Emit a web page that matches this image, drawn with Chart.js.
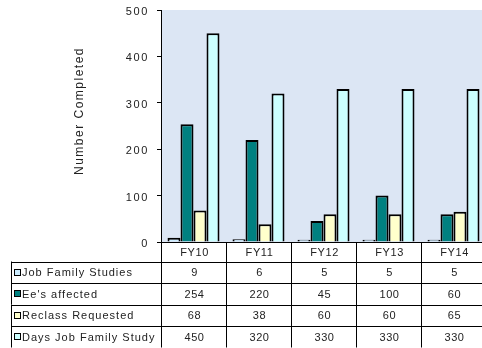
<!DOCTYPE html>
<html>
<head>
<meta charset="utf-8">
<script src="https://cdn.jsdelivr.net/npm/chart.js@4/dist/chart.umd.min.js"></script>
<style>
  html, body { margin: 0; padding: 0; background: #fff; overflow: hidden; }
  #wrap { width: 488px; height: 348px; }
</style>
</head>
<body>
<div id="wrap"><canvas id="c" width="488" height="348"></canvas></div>
<script>
// Fiscal years shown along the bottom
const categories = ['FY10', 'FY11', 'FY12', 'FY13', 'FY14'];

// Series values
const jobFamilyStudies = [9, 6, 5, 5, 5];
const eesAffected = [254, 220, 45, 100, 60];
const reclassRequested = [68, 38, 60, 60, 65];
const daysJobFamilyStudy = [450, 320, 330, 330, 330];

// Series names
const seriesNames = ['Job Family Studies', "Ee's affected", 'Reclass Requested', 'Days Job Family Study'];

// Value axis ticks
const yTicks = [0, 100, 200, 300, 400, 500];

const seriesValues = [jobFamilyStudies, eesAffected, reclassRequested, daysJobFamilyStudy];
const seriesColors = ['#ccecff', '#008080', '#ffffcc', '#ccffff'];

const FONT = '"Liberation Sans", Arial, sans-serif';
const TEXT = '#222';

// Light blue plot background
const plotBackground = {
  id: 'plotBackground',
  beforeDraw(chart) {
    const { ctx, chartArea: a } = chart;
    ctx.save();
    ctx.fillStyle = '#dce6f4';
    ctx.fillRect(a.left, a.top, a.right - a.left, a.bottom - a.top);
    ctx.restore();
  }
};

// Value-axis labels, data table under the plot and the rotated axis title
const dataTable = {
  id: 'dataTable',
  afterDraw(chart) {
    const { ctx, chartArea: a } = chart;
    const xs = chart.scales.x;
    const ys = chart.scales.y;
    const n = categories.length;
    const colW = (a.right - a.left) / n;
    const headerH = 19.5;
    const rowH = 21.5;
    const tableLeft = 11;
    const top = a.bottom;
    const px = v => Math.round(v) + 0.5;

    ctx.save();
    ctx.fillStyle = TEXT;
    ctx.textBaseline = 'middle';

    // value-axis tick labels
    ctx.font = '11px ' + FONT;
    ctx.letterSpacing = '1.6px';
    ctx.textAlign = 'right';
    yTicks.forEach(v => {
      ctx.fillText(String(v), a.left - 12, ys.getPixelForValue(v) + 2);
    });

    ctx.strokeStyle = '#000';
    ctx.lineWidth = 1;

    // header row (category names)
    const hBottom = top + headerH;
    ctx.beginPath();
    ctx.moveTo(a.left, px(hBottom));
    ctx.lineTo(a.right + 5, px(hBottom));
    for (let i = 0; i <= n; i++) {
      const x = px(a.left + i * colW);
      ctx.moveTo(x, top);
      ctx.lineTo(x, top + headerH + rowH * seriesNames.length);
    }
    ctx.stroke();
    ctx.textAlign = 'center';
    ctx.letterSpacing = '0.6px';
    categories.forEach((c, i) => {
      ctx.fillText(c, xs.getPixelForValue(i) + 1, top + headerH / 2 + 1);
    });

    // series rows
    seriesNames.forEach((name, r) => {
      const y0 = hBottom + r * rowH;
      const y1 = y0 + rowH;
      ctx.beginPath();
      ctx.moveTo(tableLeft, px(y1));
      ctx.lineTo(a.right + 5, px(y1));
      if (r === 0) {
        ctx.moveTo(tableLeft, px(y0));
        ctx.lineTo(a.left, px(y0));
      }
      ctx.moveTo(px(tableLeft), y0);
      ctx.lineTo(px(tableLeft), y1);
      ctx.stroke();

      // legend key
      const ky = Math.round(y0 + rowH / 2 - 3.5);
      ctx.fillStyle = seriesColors[r];
      ctx.fillRect(14, ky, 7, 7);
      ctx.strokeRect(14.5, ky + 0.5, 6, 6);

      ctx.fillStyle = TEXT;
      ctx.textAlign = 'left';
      ctx.letterSpacing = '1px';
      ctx.fillText(name, 22, y0 + rowH / 2 + 1);
      ctx.textAlign = 'center';
      ctx.letterSpacing = '0.6px';
      seriesValues[r].forEach((v, i) => {
        ctx.fillText(String(v), xs.getPixelForValue(i) + 1, y0 + rowH / 2 + 1);
      });
    });

    // y axis title
    ctx.font = '12px ' + FONT;
    ctx.letterSpacing = '1.5px';
    ctx.translate(80, 111);
    ctx.rotate(-Math.PI / 2);
    ctx.textAlign = 'center';
    ctx.fillText('Number Completed', 0, 0);
    ctx.restore();
  }
};

new Chart(document.getElementById('c'), {
  type: 'bar',
  data: {
    labels: categories,
    datasets: seriesNames.map((name, i) => ({
      label: name,
      data: seriesValues[i],
      backgroundColor: seriesColors[i],
      borderColor: '#000',
      borderWidth: 2,
      categoryPercentage: 0.8,
      barPercentage: 1.0
    }))
  },
  options: {
    responsive: false,
    animation: false,
    layout: { padding: { top: 10, right: 2, bottom: 106, left: 0 } },
    plugins: { legend: { display: false }, tooltip: { enabled: false } },
    scales: {
      x: {
        grid: { display: false },
        ticks: { display: false },
        afterFit(scale) { scale.height = 0; },
        border: { display: true, color: '#000', width: 1 }
      },
      y: {
        min: 0,
        max: 500,
        afterBuildTicks(scale) { scale.ticks = yTicks.map(v => ({ value: v })); },
        afterFit(scale) { scale.width = 161; },
        ticks: { display: false },
        grid: { drawOnChartArea: false, drawTicks: true, tickLength: 4, color: '#000' },
        border: { display: true, color: '#000', width: 1 }
      }
    }
  },
  plugins: [plotBackground, dataTable]
});
</script>
</body>
</html>
